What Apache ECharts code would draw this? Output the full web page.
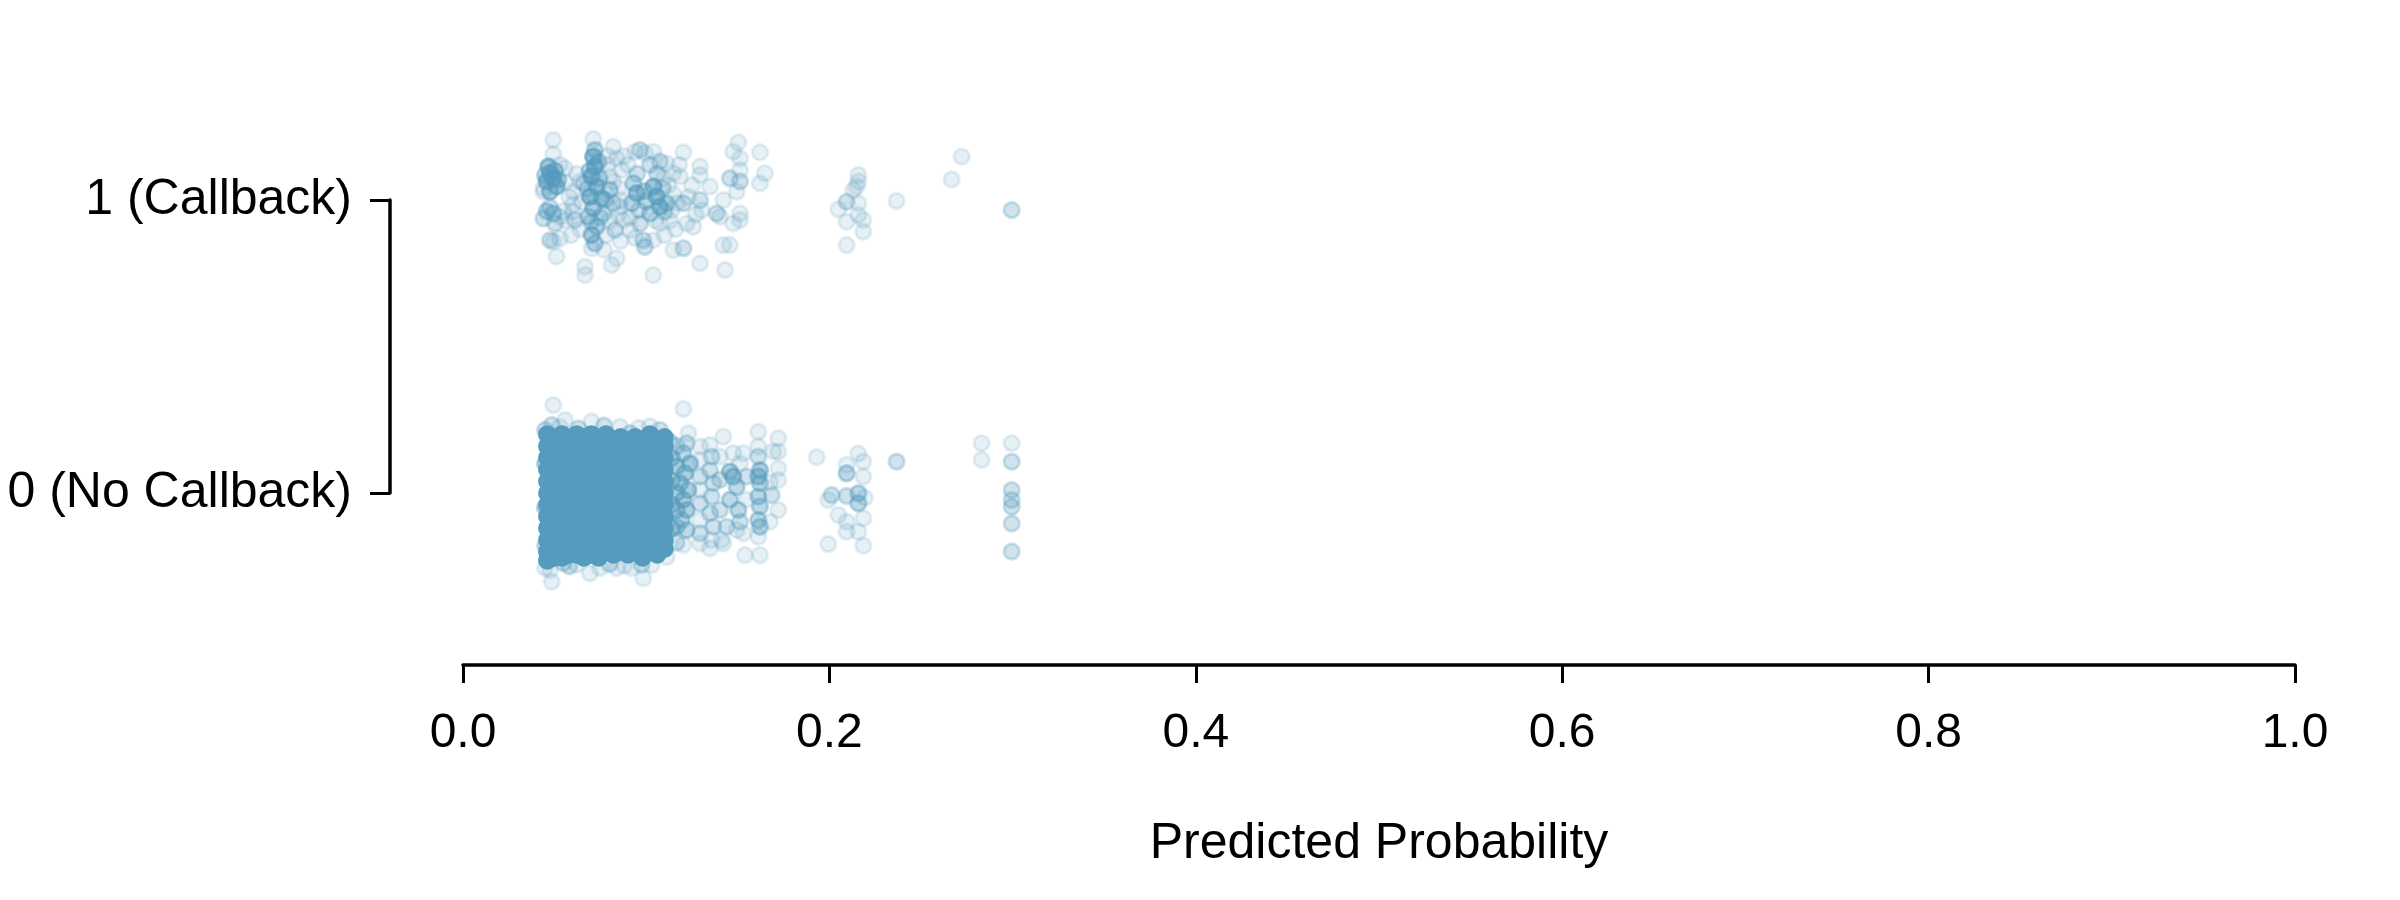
<!DOCTYPE html>
<html>
<head>
<meta charset="utf-8">
<script src="https://cdn.jsdelivr.net/npm/echarts@6/dist/echarts.min.js"></script>
<style>
html,body{margin:0;padding:0;background:#fff;}
#chart{width:2400px;height:900px;}
</style>
</head>
<body>
<div id="chart"></div>
<script>
// ---- data ----
const xTickLabels = ['0.0', '0.2', '0.4', '0.6', '0.8', '1.0'];
const yTickLabels = ['0 (No Callback)', '1 (Callback)'];
const xTitle = 'Predicted Probability';

// [predicted probability, jittered outcome, number of overlapping observations]
const callbackPoints = [
 [0.0493,1.205,1],[0.0493,1.156,1],[0.0466,1.114,5],[0.0475,1.091,6],[0.0493,1.074,6],[0.0457,1.063,5],[0.0511,1.046,5],[0.0475,1.028,4],[0.0502,1.100,4],[0.0448,1.085,3],[0.0520,1.070,3],[0.0529,1.120,1],[0.0439,1.040,1],[0.0557,1.108,1],[0.0439,1.028,1],
 [0.0457,0.962,3],[0.0493,0.954,3],[0.0475,0.975,2],[0.0529,0.943,1],[0.0439,0.937,2],[0.0548,0.962,1],[0.0502,0.920,2],[0.0475,0.863,2],[0.0493,0.858,1],[0.0529,0.869,1],[0.0511,0.807,1],[0.0611,0.932,2],[0.0602,1.028,1],[0.0639,1.063,1],[0.0600,0.960,1],
 [0.0711,1.208,1],[0.0720,1.171,3],[0.0711,1.148,6],[0.0720,1.114,6],[0.0702,1.080,6],[0.0730,1.046,6],[0.0693,1.011,6],[0.0757,1.006,4],[0.0775,1.000,3],[0.0711,0.972,4],[0.0684,0.943,3],[0.0730,0.909,3],[0.0702,0.881,4],[0.0720,0.852,3],[0.0702,0.835,1],[0.0666,0.772,1],[0.0666,0.744,1],
 [0.0740,1.130,3],[0.0690,1.100,3],[0.0745,1.075,3],[0.0680,1.040,2],[0.0750,0.940,2],[0.0700,0.925,2],[0.0802,1.035,3],[0.0820,0.989,2],[0.0766,0.954,2],[0.0657,1.057,2],[0.0648,0.994,1],
 [0.0820,1.182,1],[0.0839,1.142,1],[0.0820,1.063,1],[0.0830,0.898,2],[0.0811,0.778,1],[0.0839,0.801,1],[0.0857,0.977,1],[0.0875,0.932,1],
 [0.0939,1.165,1],[0.0966,1.171,2],[0.0993,1.160,1],[0.1039,1.165,1],[0.1075,1.131,2],[0.1112,1.125,1],[0.0930,1.057,3],[0.0948,1.023,5],[0.0921,0.989,3],[0.1039,1.046,5],[0.1057,1.011,6],[0.1075,0.977,5],[0.1021,0.954,3],[0.1112,0.989,3],[0.1139,0.965,1],
 [0.0990,1.030,3],[0.1000,0.995,3],[0.1090,1.040,2],[0.0960,0.965,2],[0.1100,0.960,2],[0.0950,1.090,2],[0.1060,1.090,2],[0.1020,1.120,2],
 [0.0966,0.920,2],[0.0912,0.898,1],[0.1075,0.920,1],[0.0984,0.863,2],[0.0993,0.840,2],[0.1039,0.863,1],[0.1039,0.744,1],[0.1094,1.074,1],[0.0866,1.102,1],[0.1148,1.091,1],
 [0.0560,1.060,1],[0.0580,1.010,1],[0.0600,0.985,1],[0.0560,0.930,1],[0.0620,1.090,1],[0.0640,0.900,1],[0.0590,0.880,1],
 [0.0790,1.120,1],[0.0800,1.080,1],[0.0850,1.040,1],[0.0860,1.000,1],[0.0800,0.930,1],[0.0850,0.950,1],[0.0780,0.880,1],[0.0860,0.860,1],[0.0880,1.150,1],[0.0900,1.120,1],[0.0790,1.150,1],[0.0770,0.830,1],
 [0.1120,1.050,1],[0.1150,1.020,1],[0.1170,0.990,1],[0.1130,0.930,1],[0.1160,0.900,1],[0.1100,0.880,1],[0.1180,1.120,1],[0.1050,0.930,1],[0.0910,0.940,1],[0.0940,0.870,1],
 [0.1250,1.050,1],[0.1270,0.950,1],[0.1230,1.010,1],
 [0.1203,1.163,1],[0.1294,1.114,1],[0.1294,1.085,1],[0.1203,0.989,2],[0.1221,0.920,1],[0.1203,0.835,2],[0.1148,0.829,1],[0.1294,0.784,1],[0.1348,1.046,1],[0.1294,1.000,2],[0.1303,0.965,1],[0.1257,0.909,1],[0.1185,1.080,1],
 [0.1503,1.196,1],[0.1475,1.165,1],[0.1512,1.142,1],[0.1512,1.102,1],[0.1457,1.074,2],[0.1512,1.063,2],[0.1494,1.028,1],[0.1421,1.000,1],[0.1385,0.954,2],[0.1403,0.943,1],[0.1475,0.920,1],[0.1512,0.932,1],[0.1512,0.954,1],[0.1421,0.846,1],[0.1457,0.846,1],[0.1430,0.761,1],
 [0.1621,1.163,1],[0.1648,1.091,1],[0.1621,1.057,1],
 [0.2158,1.085,1],[0.2158,1.063,1],[0.2149,1.046,1],[0.2131,1.034,1],[0.2094,0.994,2],[0.2049,0.968,1],[0.2158,0.989,1],[0.2158,0.949,1],[0.2185,0.932,1],[0.2094,0.926,1],[0.2185,0.892,1],[0.2094,0.846,1],[0.2367,0.997,1],[0.2667,1.070,1],[0.2722,1.148,1],[0.2995,0.966,2]
];

// saturated core of the no-callback group: [predicted probability, jittered outcomes...]
const noCallbackDenseWeight = 30;
const noCallbackDense = [
 [0.046, 0.20,0.16,0.12,0.08,0.04,0.00,-0.04,-0.08,-0.12,-0.16,-0.20,-0.23],
 [0.050, 0.18,0.14,0.10,0.06,0.02,-0.02,-0.06,-0.10,-0.14,-0.18,-0.22],
 [0.054, 0.20,0.16,0.12,0.08,0.04,0.00,-0.04,-0.08,-0.12,-0.16,-0.20,-0.22],
 [0.058, 0.18,0.14,0.10,0.06,0.02,-0.02,-0.06,-0.10,-0.14,-0.18,-0.21],
 [0.062, 0.20,0.16,0.12,0.08,0.04,0.00,-0.04,-0.08,-0.12,-0.16,-0.21],
 [0.066, 0.19,0.14,0.10,0.06,0.02,-0.02,-0.06,-0.10,-0.14,-0.18,-0.22],
 [0.070, 0.20,0.16,0.12,0.08,0.04,0.00,-0.04,-0.08,-0.12,-0.16,-0.21],
 [0.074, 0.18,0.14,0.10,0.06,0.02,-0.02,-0.06,-0.10,-0.14,-0.19,-0.22],
 [0.078, 0.20,0.16,0.12,0.08,0.04,0.00,-0.04,-0.08,-0.12,-0.16,-0.20],
 [0.082, 0.18,0.14,0.10,0.06,0.02,-0.02,-0.06,-0.10,-0.14,-0.18,-0.21],
 [0.086, 0.19,0.16,0.12,0.08,0.04,0.00,-0.04,-0.08,-0.12,-0.16,-0.20],
 [0.090, 0.18,0.14,0.10,0.06,0.02,-0.02,-0.06,-0.10,-0.14,-0.18,-0.21],
 [0.094, 0.19,0.16,0.12,0.08,0.04,0.00,-0.04,-0.08,-0.12,-0.16,-0.20],
 [0.098, 0.18,0.14,0.10,0.06,0.02,-0.02,-0.06,-0.10,-0.14,-0.18,-0.22],
 [0.102, 0.20,0.16,0.12,0.08,0.04,0.00,-0.04,-0.08,-0.12,-0.16,-0.20],
 [0.106, 0.18,0.14,0.10,0.06,0.02,-0.02,-0.06,-0.10,-0.14,-0.18,-0.21],
 [0.110, 0.19,0.16,0.12,0.08,0.04,0.00,-0.04,-0.08,-0.12,-0.16,-0.19]
];

// sparser no-callback points: [predicted probability, jittered outcome, count]
const noCallbackPoints = [
 [0.0493,0.300,1],[0.1203,0.287,1],[0.0557,0.249,1],[0.0702,0.244,1],[0.0857,0.226,1],[0.1075,0.215,2],[0.0484,0.232,2],[0.0630,0.220,2],[0.0912,0.204,2],[0.1130,0.175,2],[0.0448,0.215,2],[0.0448,0.100,3],[0.0448,-0.050,3],[0.0448,-0.180,2],
 [0.0530,0.225,1],[0.0770,0.230,2],[0.0960,0.222,1],[0.1020,0.228,1],[0.0580,-0.250,2],[0.0800,-0.242,2],[0.0880,-0.248,1],[0.1140,0.120,4],[0.1140,0.040,4],[0.1140,-0.040,4],[0.1140,-0.120,4],
 [0.0484,-0.303,1],[0.0475,-0.263,1],[0.0984,-0.291,1],[0.0693,-0.274,1],[0.0748,-0.256,1],[0.0839,-0.256,1],[0.0921,-0.256,1],[0.0620,-0.245,1],[0.1030,-0.246,1],[0.1112,-0.218,1],[0.0448,-0.256,1],[0.0548,-0.239,2],[0.0975,-0.245,2],
 [0.1230,0.204,1],[0.1221,0.170,2],[0.1203,0.136,3],[0.1239,0.101,4],[0.1212,0.067,4],[0.1185,0.033,4],[0.1230,0.010,4],[0.1203,-0.023,4],[0.1221,-0.058,4],[0.1194,-0.092,3],[0.1221,-0.126,3],[0.1203,-0.177,1],[0.1166,-0.058,4],[0.1166,0.090,4],[0.1166,0.000,4],[0.1166,-0.115,3],[0.1166,0.160,2],[0.1166,-0.170,2],
 [0.1294,0.159,1],[0.1294,0.113,1],[0.1294,0.056,2],[0.1294,0.010,1],[0.1294,-0.035,2],[0.1294,-0.092,1],[0.1294,-0.137,2],[0.1294,-0.172,1],
 [0.1348,0.164,1],[0.1357,0.124,2],[0.1348,0.078,2],[0.1366,0.033,2],[0.1357,-0.012,2],[0.1348,-0.069,2],[0.1366,-0.115,2],[0.1357,-0.160,1],[0.1348,-0.189,1],[0.1403,0.124,1],[0.1403,0.045,2],[0.1403,-0.058,2],[0.1412,-0.160,1],[0.1421,0.192,1],
 [0.1457,0.073,4],[0.1475,0.056,4],[0.1494,0.021,3],[0.1457,-0.023,3],[0.1503,-0.058,3],[0.1475,0.136,1],[0.1530,0.136,1],[0.1512,0.101,1],[0.1548,0.056,2],[0.1439,-0.115,2],[0.1494,-0.126,1],[0.1530,-0.137,1],[0.1421,-0.172,1],[0.1548,-0.023,1],[0.1512,-0.098,2],
 [0.1612,0.209,1],[0.1612,0.159,1],[0.1612,0.124,2],[0.1621,0.078,4],[0.1612,0.056,4],[0.1621,0.033,3],[0.1612,-0.012,3],[0.1621,-0.046,3],[0.1612,-0.092,3],[0.1621,-0.115,3],[0.1612,-0.149,1],[0.1621,-0.212,1],[0.1539,-0.212,1],
 [0.1721,0.187,1],[0.1721,0.141,1],[0.1694,0.142,1],[0.1721,0.084,1],[0.1721,0.044,1],[0.1685,-0.007,2],[0.1721,-0.058,1],[0.1676,-0.098,1],[0.1676,0.036,1],
 [0.1931,0.122,1],
 [0.2158,0.135,1],[0.2185,0.107,1],[0.2094,0.096,1],[0.2094,0.067,3],[0.2185,0.056,1],[0.2012,-0.007,2],[0.1994,-0.024,1],[0.2094,-0.010,2],[0.2158,-0.001,3],[0.2158,-0.035,3],[0.2194,-0.016,1],[0.2049,-0.075,1],[0.2094,-0.098,1],[0.2094,-0.132,1],[0.2158,-0.132,1],[0.2185,-0.086,1],[0.1994,-0.174,1],[0.2185,-0.180,1],
 [0.2367,0.107,2],
 [0.2831,0.170,1],[0.2831,0.113,1],
 [0.2995,0.170,1],[0.2995,0.107,2],[0.2995,0.010,2],[0.2995,-0.024,2],[0.2995,-0.047,2],[0.2995,-0.104,2],[0.2995,-0.200,2]
];

// ---- chart ----
const POINT_COLOR = '#569BBD';
const ALPHA = 0.15;
const FONT = '"Liberation Sans", Arial, Helvetica, sans-serif';

function toItems(points) {
  return points.map(p => ({
    value: [p[0], p[1]],
    itemStyle: { opacity: 1 - Math.pow(1 - ALPHA, p[2]) }
  }));
}
const denseTriples = [];
noCallbackDense.forEach(col => {
  for (let i = 1; i < col.length; i++) denseTriples.push([col[0], col[i], noCallbackDenseWeight]);
});

const chart = echarts.init(document.getElementById('chart'), null, { renderer: 'canvas' });
const pointStyle = { color: POINT_COLOR, borderColor: POINT_COLOR, borderWidth: 3 };

chart.setOption({
  backgroundColor: '#ffffff',
  animation: false,
  grid: { left: 463, top: 200, width: 1832, height: 293, outerBoundsMode: 'none', containLabel: false },
  xAxis: {
    type: 'value', min: 0, max: 1, interval: 0.2,
    position: 'bottom', offset: 172,
    axisLine: { show: true, onZero: false, lineStyle: { color: '#000', width: 3.5 } },
    axisTick: { show: true, length: 18, lineStyle: { color: '#000', width: 3 } },
    splitLine: { show: false },
    axisLabel: {
      color: '#000', fontSize: 48, fontFamily: FONT, margin: 45,
      formatter: v => xTickLabels[Math.round(v / 0.2)]
    },
    name: xTitle, nameLocation: 'middle', nameGap: 154,
    nameTextStyle: { color: '#000', fontSize: 50, fontFamily: FONT }
  },
  yAxis: {
    type: 'value', min: 0, max: 1, interval: 1,
    position: 'left', offset: 73,
    axisLine: { show: true, onZero: false, lineStyle: { color: '#000', width: 3.5 } },
    axisTick: { show: true, length: 20, lineStyle: { color: '#000', width: 3 } },
    splitLine: { show: false },
    axisLabel: {
      color: '#000', fontSize: 50, fontFamily: FONT, margin: 38,
      formatter: v => yTickLabels[Math.round(v)]
    }
  },
  series: [
    { type: 'scatter', name: 'No Callback', clip: false, symbol: 'circle', symbolSize: 15.5,
      itemStyle: pointStyle, emphasis: { disabled: true },
      data: toItems(denseTriples.concat(noCallbackPoints)) },
    { type: 'scatter', name: 'Callback', clip: false, symbol: 'circle', symbolSize: 15.5,
      itemStyle: pointStyle, emphasis: { disabled: true },
      data: toItems(callbackPoints) }
  ]
});
</script>
</body>
</html>
